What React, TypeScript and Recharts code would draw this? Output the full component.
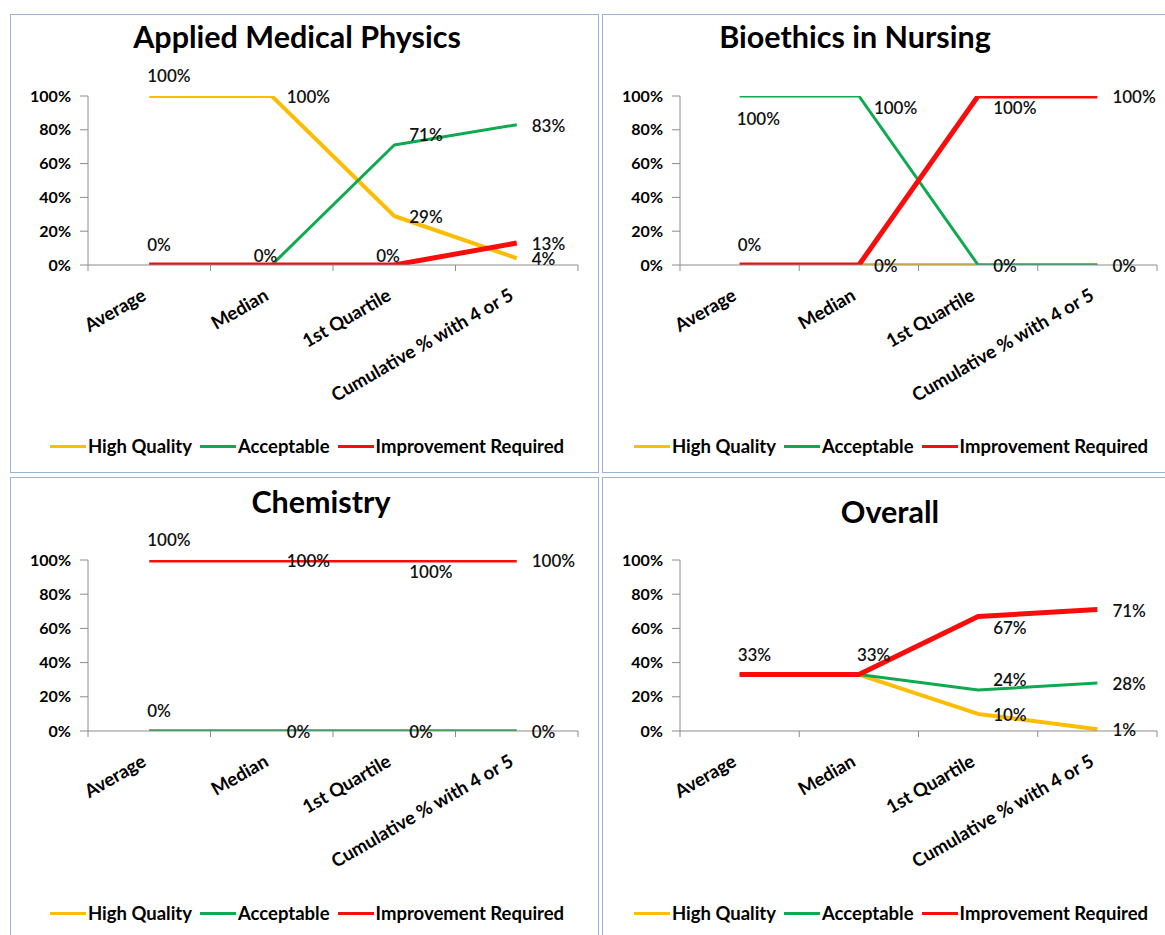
import { LineChart, Line, XAxis, YAxis, Legend, LabelList } from 'recharts'

const FONT = 'Lato, "Open Sans", sans-serif'
const AXIS = '#8c8c8c'

const categories = ['Average', 'Median', '1st Quartile', 'Cumulative % with 4 or 5']
const seriesNames = ['High Quality', 'Acceptable', 'Improvement Required']
const yTicks = [0, 20, 40, 60, 80, 100]

// values in %
const physicsHigh       = [100, 100, 29, 4]
const physicsAcceptable = [0, 0, 71, 83]
const physicsImprove    = [0, 0, 0, 13]

const bioethicsHigh       = [0, 0, 0, 0]
const bioethicsAcceptable = [100, 100, 0, 0]
const bioethicsImprove    = [0, 0, 100, 100]

const chemistryHigh       = [0, 0, 0, 0]
const chemistryAcceptable = [0, 0, 0, 0]
const chemistryImprove    = [100, 100, 100, 100]

const overallHigh       = [33, 33, 10, 1]
const overallAcceptable = [33, 33, 24, 28]
const overallImprove    = [33, 33, 67, 71]

const SERIES = [
  { key: 'high',       color: '#FCBD05', width: 4 },
  { key: 'acceptable', color: '#0FAA50', width: 3 },
  { key: 'improve',    color: '#F80C0C', width: 5 },
]

// label placement relative to its point: [dx of text start, dy of text middle]
type Place = 'A' | 'B' | 'R' | 'RA' | 'RB' | 'L'
const PLACE: Record<Place, [number, number]> = {
  A:  [-2, -20],
  B:  [-3, 23],
  R:  [15, 1],
  RA: [15, -10],
  RB: [15, 12],
  L:  [-18, -9],
}

const PANELS = [
  {
    title: 'Applied Medical Physics',
    values: [physicsHigh, physicsAcceptable, physicsImprove],
    places: [['A', 'R', 'R', 'R'], ['A', 'L', 'RA', 'R'], ['A', 'L', 'L', 'R']] as Place[][],
    left: 10, top: 14, width: 589, height: 459,
    plot: { left: 78, right: 21, top: 82, bottom: 251 },
    titleX: 287, titleY: 34, legendX: 297, legendY: 432,
  },
  {
    title: 'Bioethics in Nursing',
    values: [bioethicsHigh, bioethicsAcceptable, bioethicsImprove],
    places: [['A', 'R', 'R', 'R'], ['B', 'RB', 'R', 'R'], ['A', 'R', 'RB', 'R']] as Place[][],
    left: 602, top: 14, width: 589, height: 459,
    plot: { left: 78, right: 34, top: 82, bottom: 251 },
    titleX: 253, titleY: 34, legendX: 289, legendY: 432,
  },
  {
    title: 'Chemistry',
    values: [chemistryHigh, chemistryAcceptable, chemistryImprove],
    places: [['A', 'R', 'R', 'R'], ['A', 'R', 'R', 'R'], ['A', 'R', 'RB', 'R']] as Place[][],
    left: 10, top: 477, width: 589, height: 470,
    plot: { left: 78, right: 21, top: 83, bottom: 254 },
    titleX: 311, titleY: 36, legendX: 297, legendY: 436,
  },
  {
    title: 'Overall',
    values: [overallHigh, overallAcceptable, overallImprove],
    places: [['A', 'A', 'R', 'R'], ['A', 'A', 'RA', 'R'], ['A', 'A', 'RB', 'R']] as Place[][],
    left: 602, top: 477, width: 589, height: 470,
    plot: { left: 78, right: 34, top: 83, bottom: 254 },
    titleX: 288, titleY: 46, legendX: 289, legendY: 436,
  },
]

type PanelDef = typeof PANELS[number]

function CategoryTick(props: any) {
  const { x, y, payload, index, band, count } = props
  const edge = x - band / 2
  const tx = x - 2
  const ty = y + 34
  return (
    <g>
      <line x1={edge} x2={edge} y1={y} y2={y + 6} stroke={AXIS} />
      {index === count - 1 && (
        <line x1={x + band / 2} x2={x + band / 2} y1={y} y2={y + 6} stroke={AXIS} />
      )}
      <text
        x={tx}
        y={ty}
        textAnchor="end"
        transform={`rotate(-30 ${tx} ${ty})`}
        fontFamily={FONT}
        fontSize={18.5}
        fontWeight={700}
        fill="#000"
      >
        {payload.value}
      </text>
    </g>
  )
}

function makeLabel(panel: PanelDef, si: number) {
  return (props: any) => {
    const vb = props.viewBox || {}
    const px = props.x ?? vb.x
    const py = props.y ?? vb.y
    const i = props.index
    if (px == null || py == null || i == null) return null
    const place = panel.places[si][i]
    // an identical label from a series drawn earlier already sits here
    for (let sj = 0; sj < si; sj++) {
      if (panel.values[sj][i] === panel.values[si][i] && panel.places[sj][i] === place) return null
    }
    const [dx, dy] = PLACE[place]
    return (
      <text
        x={px + dx}
        y={py + dy}
        dy="0.35em"
        textAnchor="start"
        fontFamily={FONT}
        fontSize={17}
        fontWeight={600}
        fill="#111"
      >
        {`${props.value}%`}
      </text>
    )
  }
}

function LegendRow() {
  return (
    <div style={{
      display: 'flex', justifyContent: 'center', alignItems: 'center',
      fontFamily: FONT, fontSize: 18.5, fontWeight: 700, color: '#000',
      whiteSpace: 'nowrap', lineHeight: '24px',
    }}>
      {SERIES.map((s, i) => (
        <span key={s.key} style={{ display: 'flex', alignItems: 'center', marginLeft: i ? 8 : 0 }}>
          <span style={{ display: 'inline-block', width: 36, height: 3, background: s.color, marginRight: 2 }} />
          {seriesNames[i]}
        </span>
      ))}
    </div>
  )
}

function Panel({ panel }: { panel: PanelDef }) {
  const { plot } = panel
  const rows = categories.map((name, i) => ({
    name,
    high: panel.values[0][i],
    acceptable: panel.values[1][i],
    improve: panel.values[2][i],
  }))
  const plotWidth = panel.width - plot.left - plot.right
  const band = plotWidth / categories.length
  const xAxisHeight = 40

  return (
    <div style={{
      position: 'absolute', left: panel.left, top: panel.top,
      width: panel.width, height: panel.height,
      border: '1px solid #9db2cc', boxSizing: 'border-box', background: '#fff',
    }}>
      <div style={{ position: 'absolute', left: -1, top: -1 }}>
        <LineChart
          width={panel.width}
          height={panel.height}
          data={rows}
          margin={{
            top: plot.top,
            right: plot.right,
            left: 0,
            bottom: panel.height - plot.bottom - xAxisHeight,
          }}
        >
          <text
            x={panel.titleX}
            y={panel.titleY}
            textAnchor="middle"
            fontFamily={FONT}
            fontSize={30.5}
            fontWeight={700}
            fill="#000"
          >
            {panel.title}
          </text>
          <XAxis
            dataKey="name"
            type="category"
            height={xAxisHeight}
            padding={{ left: band / 2, right: band / 2 }}
            interval={0}
            stroke={AXIS}
            tickLine={false}
            tickSize={0}
            tickMargin={0}
            tick={(p: any) => <CategoryTick {...p} band={band} count={categories.length} />}
          />
          <YAxis
            width={plot.left}
            domain={[0, 100]}
            ticks={yTicks}
            interval={0}
            allowDataOverflow
            stroke={AXIS}
            tickSize={8}
            tickMargin={9}
            tickFormatter={(v: number) => `${v}%`}
            tick={{ fill: '#000', fontSize: 16, fontWeight: 700, fontFamily: FONT }}
          />
          {SERIES.map((s, si) => (
            <Line
              key={s.key}
              type="linear"
              dataKey={s.key}
              name={seriesNames[si]}
              stroke={s.color}
              strokeWidth={s.width}
              strokeLinejoin="round"
              dot={false}
              activeDot={false}
              isAnimationActive={false}
            >
              <LabelList dataKey={s.key} content={makeLabel(panel, si)} />
            </Line>
          ))}
          <Legend
            layout="horizontal"
            align="center"
            verticalAlign="middle"
            wrapperStyle={{ left: panel.legendX - 290, top: panel.legendY - 12, width: 580 }}
            content={() => <LegendRow />}
          />
        </LineChart>
      </div>
    </div>
  )
}

export default function App() {
  return (
    <div style={{
      position: 'absolute', left: 0, top: 0, width: 1165, height: 935,
      overflow: 'hidden', background: '#fff',
    }}>
      {PANELS.map(p => <Panel key={p.title} panel={p} />)}
    </div>
  )
}
